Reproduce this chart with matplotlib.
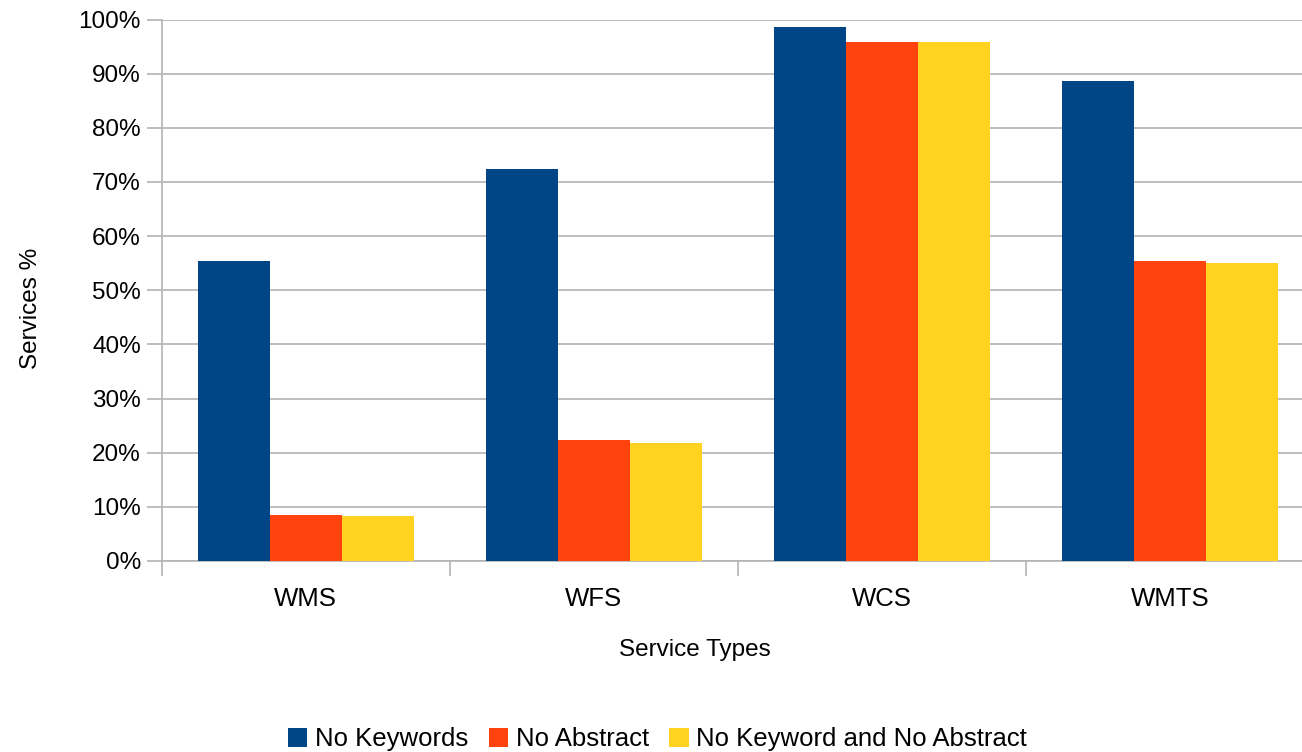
import matplotlib
matplotlib.use("Agg")
import matplotlib.pyplot as plt
import numpy as np

plt.rcParams['font.family'] = ['Liberation Sans', 'DejaVu Sans']

categories = ['WMS', 'WFS', 'WCS', 'WMTS']
no_keywords = [55.4, 72.4, 98.7, 88.7]
no_abstract = [8.55, 22.35, 95.9, 55.4]
no_both = [8.3, 21.8, 95.9, 55.05]
series_names = ['No Keywords', 'No Abstract', 'No Keyword and No Abstract']
colors = ['#004586', '#ff420e', '#ffd320']

fig = plt.figure(figsize=(13.02, 7.52), dpi=100)
# axes runs slightly past the right edge, as in the original export
ax = fig.add_axes([0.1242, 0.254, 0.8848, 0.72])

x = np.arange(len(categories))
w = 0.25
for i, (vals, name, c) in enumerate(zip([no_keywords, no_abstract, no_both], series_names, colors)):
    ax.bar(x + (i - 1) * w, vals, width=w, color=c, label=name, zorder=3)

ax.set_xlim(-0.5, len(categories) - 0.5)
ax.set_ylim(0, 100)
ax.set_yticks(np.arange(0, 101, 10))
ax.set_yticklabels([f'{v}%' for v in range(0, 101, 10)])
ax.set_xticks(x)
ax.set_xticklabels(categories)
ax.set_xticks(np.arange(-0.5, len(categories), 1), minor=True)
ax.tick_params(axis='x', which='major', length=0, pad=19, labelsize=18.5)
ax.tick_params(axis='x', which='minor', length=11, color='#b3b3b3', width=1.2)
ax.tick_params(axis='y', length=11, color='#b3b3b3', width=1.2, labelsize=17.5, pad=4)
ax.yaxis.grid(True, color='#b3b3b3', linewidth=1.2, zorder=0)
for s in ['top', 'right']:
    ax.spines[s].set_visible(False)
for s in ['left', 'bottom']:
    ax.spines[s].set_color('#b3b3b3')
    ax.spines[s].set_linewidth(1.2)

ax.set_xlabel('Service Types', fontsize=17.5)
ax.set_ylabel('Services %', fontsize=17.5)
ax.xaxis.set_label_coords(0.463, -0.144)
ax.yaxis.set_label_coords(-0.104, 0.467)

fig.legend(loc='lower center', bbox_to_anchor=(0.505, -0.03), ncol=3, frameon=False,
           fontsize=18.5, handlelength=0.75, handleheight=0.75, handletextpad=0.3, columnspacing=0.8)

fig.savefig('out.png', dpi=100)
